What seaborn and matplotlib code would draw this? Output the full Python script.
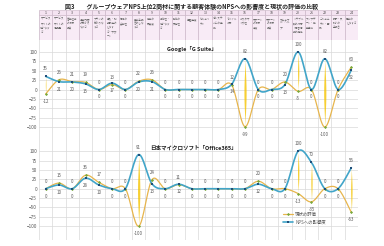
import numpy as np
import pandas as pd
import matplotlib
matplotlib.use("Agg")
import matplotlib.pyplot as plt
from matplotlib.patches import Rectangle
from matplotlib.lines import Line2D
import seaborn as sns

sns.set_theme(style="white")
plt.rcParams['font.family'] = ['Noto Sans CJK JP', 'DejaVu Sans']

# Data
items = list(range(1, 25))
item_labels = [
    "サービス\nサイトの\n使いやす\nさ", "サービス\nサイトの\n情報量", "営業担当\nの対応\n品質", "提案内容\nの分かり\nやすさ",
    "プランの\n分かりや\nすさ", "導入・初\n期設定の\nしやす\nさ・サポ\nート", "価格の\n妥当性", "契約手続\nきのしや\nすさ",
    "機能の\n充実度", "操作性・\n使いやす\nさ", "動作の\n安定性", "処理速度",
    "セキュリ\nティ", "他システ\nムとの連\n携", "モバイル\n対応", "カスタマ\nイズ性",
    "サポート\nの対応\n速度", "サポート\nの対応\n品質", "マニュア\nル・ヘル\nプ", "トラブル\n時の対応\n・障害情\n報の提供",
    "アップデ\nート・機\n能追加", "コミュニ\nティ・事\n例", "請求・支\n払いの\n手続き", "解約の\nしやすさ",
]

google_impact = [35, 21, 20, 15, 0, 17, 0, 20, 21, 0, 0, 0, 0, 0, 14, 82, 0, 0, 13, 100, 0, 82, 0, 52]
google_eval = [-12, 26, 21, 19, 0, 13, 0, 22, 26, 0, 0, 0, 0, 0, 12, -99, 0, 0, 20, -5, 0, -100, 0, 60]
ms_impact = [0, 10, 0, 28, 10, 0, 0, 91, 13, 0, 12, 0, 0, 0, 0, 0, 12, 0, 0, 100, 70, 0, 0, 56]
ms_eval = [0, 15, 0, 36, 17, 0, 0, -100, 24, 0, 11, 0, 0, 0, 0, 0, 20, 0, 0, -13, -35, 0, 0, -63]

title = "図3　　グループウェアNPS上位2商材に関する顧客体験のNPSへの影響度と現状の評価の比較"

BLUE = "#41a5c9"
BLUE_M = "#1f4e79"
GOLD = "#e7b54c"
GOLD_M = "#78a83a"
GRID = "#d9d9d9"
TXT = "#595959"


def smooth(x, y, n=16):
    # catmull-rom curve through the points (like Excel's smoothed line)
    x = np.asarray(x, float)
    y = np.asarray(y, float)
    px = np.concatenate([[x[0]], x, [x[-1]]])
    py = np.concatenate([[y[0]], y, [y[-1]]])
    xs, ys = [], []
    t = np.linspace(0, 1, n, endpoint=False)
    for i in range(1, len(px) - 2):
        for p, out in ((px, xs), (py, ys)):
            p0, p1, p2, p3 = p[i - 1], p[i], p[i + 1], p[i + 2]
            out.append(0.5 * (2 * p1 + (-p0 + p2) * t + (2 * p0 - 5 * p1 + 4 * p2 - p3) * t ** 2
                              + (-p0 + 3 * p1 - 3 * p2 + p3) * t ** 3))
    xs.append([x[-1]])
    ys.append([y[-1]])
    return np.concatenate(xs), np.concatenate(ys)


W, H = 384, 246


def rect(x0, y0, x1, y1):
    return [x0 / W, 1 - y1 / H, (x1 - x0) / W, (y1 - y0) / H]


fig = plt.figure(figsize=(3.84, 2.46), dpi=100)

# column grid behind everything
ax_bg = fig.add_axes(rect(39, 10, 358, 240), zorder=0)
ax_bg.set_xlim(0.5, 24.5)
ax_bg.set_ylim(0, 1)
ax_bg.axis("off")
ax_bg.vlines(np.arange(0.5, 25), 0, 1, color=GRID, lw=0.5)

# header table
ax_h = fig.add_axes(rect(39, 10, 358, 40), zorder=1)
ax_h.set_xlim(0.5, 24.5)
ax_h.set_ylim(30, 0)
ax_h.axis("off")
for i, lab in zip(items, item_labels):
    ax_h.add_patch(Rectangle((i - 0.5, 0), 1, 5, facecolor="#f4e3f1", edgecolor="#c8b2c4", lw=0.4))
    ax_h.add_patch(Rectangle((i - 0.5, 5), 1, 25, facecolor="#f8ebf6", edgecolor="#c8b2c4", lw=0.4))
    ax_h.text(i, 2.6, str(i), ha="center", va="center", fontsize=2.5, color="#444444")
    ax_h.text(i - 0.4, 7.0, lab, ha="left", va="top", fontsize=1.9, color="#666666", linespacing=1.1)

fig.text(0.5, 1 - 6 / H, title, ha="center", va="center", fontsize=4.3, weight="bold", color="#222222")


def panel(ax, impact, evals, name, name_x):
    ax.set_facecolor("none")
    ax.set_xlim(0.5, 24.5)
    ax.set_ylim(-125, 125)
    ax.set_yticks(range(-100, 101, 25))
    ax.set_xticks([])
    ax.grid(axis="y", color=GRID, lw=0.5)
    for s in ax.spines.values():
        s.set_visible(False)
    ax.tick_params(axis="y", labelsize=3.4, labelcolor=TXT, length=0, pad=1.5)

    # tapered yellow bars between the two series
    for i, a, b in zip(items, impact, evals):
        lo, hi = min(a, b), max(a, b)
        if hi - lo < 1:
            continue
        yy = np.linspace(lo, hi, 60)
        w = 0.09 * (hi - lo) / 200 * np.sin(np.pi * (yy - lo) / (hi - lo)) ** 1.5
        ax.fill_betweenx(yy, i - w, i + w, color="#f5c400", alpha=0.8, lw=0, zorder=2)

    gx, gy = smooth(items, evals)
    bx, by = smooth(items, impact)
    sns.lineplot(x=gx, y=gy, ax=ax, color=GOLD, lw=0.9, sort=False, estimator=None, zorder=3)
    sns.lineplot(x=bx, y=by, ax=ax, color=BLUE, lw=1.2, sort=False, estimator=None, zorder=4)
    sns.scatterplot(x=items, y=evals, ax=ax, color=GOLD_M, marker="D", s=2.5, linewidth=0, zorder=5)
    sns.scatterplot(x=items, y=impact, ax=ax, color=BLUE_M, marker="s", s=2.5, linewidth=0, zorder=6)

    for i, a, b in zip(items, impact, evals):
        blue_up = a - b > 10
        for v, up in ((a, blue_up), (b, not blue_up)):
            ax.annotate(str(v), (i, v), xytext=(0, 3.6 if up else -3.6), textcoords="offset points",
                        ha="center", va="bottom" if up else "top", fontsize=3.2, color=TXT, zorder=7)
    ax.text(name_x, 108, name, ha="center", va="center", fontsize=4, weight="bold", color="#222222")


ax1 = fig.add_axes(rect(39, 42.6, 358, 136.4), zorder=2)
panel(ax1, google_impact, google_eval, "Google「G Suite」", 12.0)

ax2 = fig.add_axes(rect(39, 141.8, 358, 235.6), zorder=2)
panel(ax2, ms_impact, ms_eval, "日本マイクロソフト「Office365」", 12.1)

handles = [
    Line2D([], [], color=GOLD, lw=0.9, marker="D", markersize=1.6, markerfacecolor=GOLD_M, markeredgewidth=0),
    Line2D([], [], color=BLUE, lw=1.2, marker="s", markersize=1.6, markerfacecolor=BLUE_M, markeredgewidth=0),
]
ax2.legend(handles, ["現状の評価", "NPSへの影響度"], loc="upper left", bbox_to_anchor=(0.76, 0.27),
           frameon=False, fontsize=3.2, handlelength=2.2, handletextpad=0.5, labelspacing=0.5,
           labelcolor=TXT, borderaxespad=0)

fig.savefig("out.png", dpi=100)
